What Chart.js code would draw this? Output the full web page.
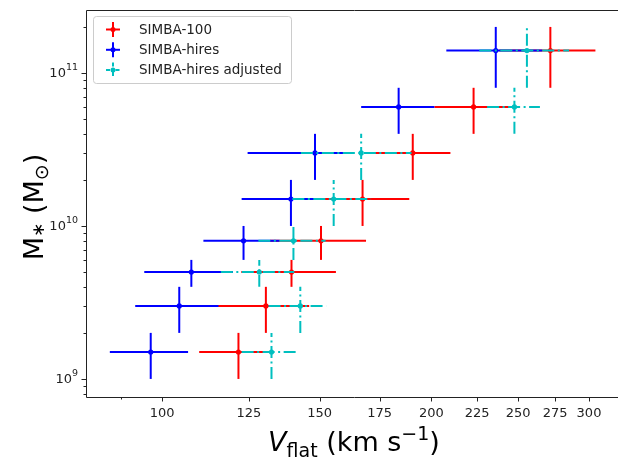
<!DOCTYPE html>
<html>
<head>
<meta charset="utf-8">
<script src="https://cdn.jsdelivr.net/npm/chart.js@4/dist/chart.umd.min.js"></script>
<style>
  html, body { margin: 0; padding: 0; background: #fff; overflow: hidden; }
  #wrap { width: 618px; height: 458px; overflow: hidden; }
  canvas { display: block; }
</style>
</head>
<body>
<div id="wrap"><canvas id="tfChart" width="626" height="458"></canvas></div>
<script>
// stellar mass bins (centre, lower and upper edge)
const massBins = [1.5e9, 3e9, 5e9, 8e9, 1.5e10, 3e10, 6e10, 1.4e11];
const massLo   = [1e9, 2e9, 4e9, 6e9, 1e10, 2e10, 4e10, 8e10];
const massHi   = [2e9, 4e9, 6e9, 1e10, 2e10, 4e10, 8e10, 2e11];

// V_flat per bin, with the spread on each side
const simba100   = [121.7, 130.6, 139.5, 150.5, 167.5, 190.6, 222.9, 271.6];
const simba100Lo = [110.0, 115.3, 122.6, 132.0, 146.1, 171.0, 201.5, 238.2];
const simba100Hi = [133.0, 146.0, 156.4, 169.0, 188.9, 210.0, 244.3, 305.0];

const hires   = [97.1, 104.5, 107.8, 123.3, 139.3, 148.2, 183.8, 236.0];
const hiresLo = [87.4, 93.3, 95.5, 111.2, 122.7, 124.6, 166.9, 207.8];
const hiresHi = [106.9, 115.6, 120.0, 135.3, 149.0, 160.4, 201.5, 266.0];

const adjusted   = [132.5, 142.7, 128.4, 140.2, 155.5, 166.9, 247.6, 255.7];
const adjustedLo = [122.7, 131.5, 116.3, 128.1, 139.8, 142.9, 230.8, 226.2];
const adjustedHi = [141.9, 152.5, 140.5, 152.3, 171.2, 190.0, 264.4, 285.0];

// axis ticks
const xTicks = [100, 125, 150, 175, 200, 225, 250, 275, 300];
const xMinorTicks = [90];
const yTicks = [1e9, 1e10, 1e11];
const yTickExp = ['9', '10', '11'];
const yMinorTicks = [];
[1e8, 1e9, 1e10, 1e11].forEach(d => {
  for (let m = 2; m <= 9; m++) yMinorTicks.push(m * d);
});

const FONT = '"DejaVu Sans", sans-serif';

const series = [
  { label: 'SIMBA-100', color: '#ff0000', v: simba100, lo: simba100Lo, hi: simba100Hi, dash: [] },
  { label: 'SIMBA-hires', color: '#0000ff', v: hires, lo: hiresLo, hi: hiresHi, dash: [] },
  { label: 'SIMBA-hires adjusted', color: '#00bfbf', v: adjusted, lo: adjustedLo, hi: adjustedHi, dash: [12, 3.5, 2, 3.5] }
];

// error bars under each dataset's markers
const errorBars = {
  id: 'errorBars',
  beforeDatasetDraw(chart, args) {
    const s = series[args.index];
    const { ctx, scales: { x, y } } = chart;
    ctx.save();
    ctx.strokeStyle = s.color;
    ctx.lineWidth = 2;
    ctx.lineCap = 'butt';
    ctx.setLineDash(s.dash);
    s.v.forEach((v, i) => {
      const py = y.getPixelForValue(massBins[i]);
      const px = x.getPixelForValue(v);
      ctx.beginPath();
      ctx.moveTo(x.getPixelForValue(s.lo[i]), py);
      ctx.lineTo(x.getPixelForValue(s.hi[i]), py);
      ctx.stroke();
      ctx.beginPath();
      ctx.moveTo(px, y.getPixelForValue(massLo[i]));
      ctx.lineTo(px, y.getPixelForValue(massHi[i]));
      ctx.stroke();
    });
    ctx.restore();
  }
};

// draws a run of text pieces (normal / sub / superscript) centred on x0
function drawRun(ctx, parts, x0, base) {
  let total = 0;
  parts.forEach(p => { ctx.font = p.f; p.w = ctx.measureText(p.t).width; total += p.w; });
  let cx = x0 - total / 2;
  parts.forEach(p => { ctx.font = p.f; ctx.fillText(p.t, cx, base + p.dy); cx += p.w; });
}

// frame, ticks, tick labels, axis titles and legend
const decorations = {
  id: 'decorations',
  afterDraw(chart) {
    const { ctx, chartArea: a, scales: { x, y } } = chart;
    ctx.save();
    ctx.strokeStyle = '#222';
    ctx.lineWidth = 1;
    ctx.beginPath();
    ctx.moveTo(a.right + 0.5, a.top + 0.5);
    ctx.lineTo(a.left + 0.5, a.top + 0.5);
    ctx.lineTo(a.left + 0.5, a.bottom + 0.5);
    ctx.lineTo(a.right + 0.5, a.bottom + 0.5);
    ctx.stroke();

    const tickX = (v, len) => {
      const px = Math.round(x.getPixelForValue(v)) + 0.5;
      ctx.beginPath(); ctx.moveTo(px, a.bottom); ctx.lineTo(px, a.bottom + len); ctx.stroke();
    };
    const tickY = (v, len) => {
      const py = Math.round(y.getPixelForValue(v)) + 0.5;
      ctx.beginPath(); ctx.moveTo(a.left, py); ctx.lineTo(a.left - len, py); ctx.stroke();
    };
    xTicks.forEach(v => tickX(v, 4.5));
    xMinorTicks.forEach(v => tickX(v, 2.5));
    yTicks.forEach(v => tickY(v, 4.5));
    yMinorTicks.filter(v => v > y.min && v < y.max).forEach(v => tickY(v, 2.5));

    ctx.fillStyle = '#222';
    ctx.font = '13px ' + FONT;
    ctx.textAlign = 'center';
    ctx.textBaseline = 'top';
    xTicks.forEach(v => ctx.fillText(String(v), x.getPixelForValue(v), a.bottom + 10));

    ctx.textBaseline = 'middle';
    yTicks.forEach((v, i) => {
      const py = y.getPixelForValue(v);
      ctx.font = '9.5px ' + FONT;
      const ew = ctx.measureText(yTickExp[i]).width;
      ctx.textAlign = 'right';
      ctx.fillText(yTickExp[i], a.left - 8, py - 5);
      ctx.font = '13px ' + FONT;
      ctx.fillText('10', a.left - 8 - ew, py + 1);
    });

    ctx.fillStyle = '#000';
    ctx.textAlign = 'left';
    ctx.textBaseline = 'alphabetic';

    // x title: V_flat (km s^-1)
    drawRun(ctx, [
      { t: 'V', f: 'italic 27px ' + FONT, dy: 0 },
      { t: 'flat', f: '19px ' + FONT, dy: 6 },
      { t: ' (km s', f: '27px ' + FONT, dy: 0 },
      { t: '\u22121', f: '19px ' + FONT, dy: -11 },
      { t: ')', f: '27px ' + FONT, dy: 0 }
    ], (a.left + a.right) / 2, 451);

    // y title: M_* (M_sun)
    ctx.save();
    ctx.translate(43, 207);
    ctx.rotate(-Math.PI / 2);
    drawRun(ctx, [
      { t: 'M', f: '27px ' + FONT, dy: 0 },
      { t: '\u2217', f: '17px ' + FONT, dy: 1 },
      { t: ' (M', f: '27px ' + FONT, dy: 0 },
      { t: '\u2299', f: '19px ' + FONT, dy: 5 },
      { t: ')', f: '27px ' + FONT, dy: 0 }
    ], 0, 0);
    ctx.restore();

    // legend box
    const lx = 93.5, ly = 16.5, lw = 198, lh = 67, r = 3;
    ctx.beginPath();
    ctx.moveTo(lx + r, ly);
    ctx.arcTo(lx + lw, ly, lx + lw, ly + lh, r);
    ctx.arcTo(lx + lw, ly + lh, lx, ly + lh, r);
    ctx.arcTo(lx, ly + lh, lx, ly, r);
    ctx.arcTo(lx, ly, lx + lw, ly, r);
    ctx.closePath();
    ctx.fillStyle = 'rgba(255,255,255,0.8)';
    ctx.fill();
    ctx.strokeStyle = '#cccccc';
    ctx.stroke();

    series.forEach((s, i) => {
      const my = 29.5 + i * 20.3, mx = 113;
      ctx.strokeStyle = s.color;
      ctx.lineWidth = 2;
      ctx.setLineDash(i === 2 ? [4, 2, 1.5, 2] : []);
      ctx.beginPath(); ctx.moveTo(mx - 7, my); ctx.lineTo(mx + 7, my); ctx.stroke();
      ctx.beginPath(); ctx.moveTo(mx, my - 7.5); ctx.lineTo(mx, my + 7.5); ctx.stroke();
      ctx.setLineDash([]);
      ctx.fillStyle = s.color;
      ctx.beginPath(); ctx.arc(mx, my, 2.5, 0, Math.PI * 2); ctx.fill();
      ctx.fillStyle = '#222';
      ctx.font = '13.5px ' + FONT;
      ctx.textAlign = 'left';
      ctx.textBaseline = 'middle';
      ctx.fillText(s.label, 139, my + 0.5);
    });
    ctx.restore();
  }
};

new Chart(document.getElementById('tfChart').getContext('2d'), {
  type: 'scatter',
  data: {
    datasets: series.map((s, i) => ({
      label: s.label,
      data: s.v.map((v, j) => ({ x: v, y: massBins[j] })),
      backgroundColor: s.color,
      borderWidth: 0,
      pointRadius: 2.6,
      order: 3 - i
    }))
  },
  options: {
    responsive: false,
    animation: false,
    devicePixelRatio: 1,
    layout: { padding: { left: 86, top: 10, right: 4, bottom: 61 } },
    scales: {
      x: { type: 'logarithmic', min: 82.2, max: 326.6, display: false },
      y: { type: 'logarithmic', min: 7.62e8, max: 2.58e11, display: false }
    },
    plugins: { legend: { display: false }, tooltip: { enabled: false } }
  },
  plugins: [errorBars, decorations]
});
</script>
</body>
</html>
